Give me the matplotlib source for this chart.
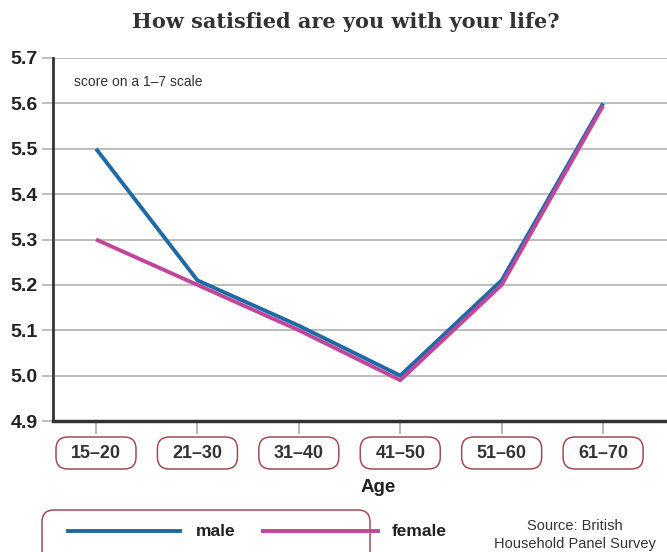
import matplotlib.pyplot as plt
from matplotlib.patches import FancyBboxPatch
from matplotlib.transforms import IdentityTransform

# Life satisfaction by age group
ages = ["15–20", "21–30", "31–40", "41–50", "51–60", "61–70"]
male = [5.5, 5.21, 5.11, 5.0, 5.21, 5.6]
female = [5.3, 5.2, 5.1, 4.99, 5.2, 5.595]
yticks = [4.9, 5.0, 5.1, 5.2, 5.3, 5.4, 5.5, 5.6, 5.7]

sans = "Liberation Sans"
blue = "#1f6aa5"
pink = "#c1459b"
frame = "#a34a55"

fig = plt.figure(figsize=(6.67, 5.52), dpi=100)
ax = fig.add_axes([53 / 667, 1 - 421 / 552, 614 / 667, 363 / 552])

x = list(range(len(ages)))
ax.plot(x, male, color=blue, lw=2.8, solid_capstyle="butt", zorder=3)
ax.plot(x, female, color=pink, lw=2.8, solid_capstyle="butt", zorder=3)

ax.set_ylim(4.9, 5.7)
ax.set_xlim(-0.424, 5.63)
ax.set_yticks(yticks)
ax.set_yticklabels([f"{v:.1f}" for v in yticks], fontsize=14, fontweight="bold",
                   family=sans, color="#222222")
ax.tick_params(axis="y", length=8, color="#b4b4b4", width=1.2, pad=3)
ax.set_xticks([])
for v in yticks[1:]:
    ax.axhline(v, color="#bdbdbd", lw=1.4, zorder=1)

for side in ["top", "right"]:
    ax.spines[side].set_visible(False)
ax.spines["left"].set_linewidth(2)
ax.spines["left"].set_color("#333333")
ax.spines["bottom"].set_linewidth(2.5)
ax.spines["bottom"].set_color("#333333")

ax.text(0.035, 0.934, "score on a 1–7 scale", transform=ax.transAxes,
        fontsize=10, family=sans, color="#333333", va="center")

# Age group labels in rounded boxes under the axis
for i, lab in enumerate(ages):
    ax.plot([i, i], [4.893, 4.873], color="#aaaaaa", lw=1.2, clip_on=False)
    px, py = ax.transData.transform((i, 4.9))
    cy = py - 32
    ax.add_patch(FancyBboxPatch((px - 40, cy - 16), 80, 32,
                                boxstyle="round,pad=0,rounding_size=12",
                                transform=IdentityTransform(), fc="white",
                                ec=frame, lw=1.1, clip_on=False))
    ax.text(px, cy, lab, transform=IdentityTransform(), ha="center",
            va="center", fontsize=13, fontweight="bold", family=sans,
            color="#333333", clip_on=False)

fig.text(378 / 667, 1 - 488 / 552, "Age", ha="center", va="center",
         fontsize=13.5, fontweight="bold", family=sans, color="#222222")

fig.text(346 / 667, 1 - 22 / 552, "How satisfied are you with your life?",
         ha="center", va="center", fontsize=15, fontweight="bold",
         family="DejaVu Serif", color="#333333")

# Legend box
fig.patches.append(FancyBboxPatch((42, -20), 328, 62,
                                  boxstyle="round,pad=0,rounding_size=12",
                                  transform=IdentityTransform(), fc="white",
                                  ec=frame, lw=1.1, clip_on=False))
ly = 1 - 531 / 552
fig.lines.append(plt.Line2D([68 / 667, 180 / 667], [ly, ly], color=blue,
                            lw=2.8, transform=fig.transFigure))
fig.lines.append(plt.Line2D([263 / 667, 378 / 667], [ly, ly], color=pink,
                            lw=2.8, transform=fig.transFigure))
fig.text(196 / 667, ly, "male", va="center", fontsize=12.5, fontweight="bold",
         family=sans, color="#222222")
fig.text(392 / 667, ly, "female", va="center", fontsize=12.5, fontweight="bold",
         family=sans, color="#222222")

fig.text(575 / 667, 1 - 535 / 552, "Source: British\nHousehold Panel Survey",
         ha="center", va="center", fontsize=10.5, family=sans,
         color="#333333", linespacing=1.3)

fig.savefig("out.png", dpi=100)
